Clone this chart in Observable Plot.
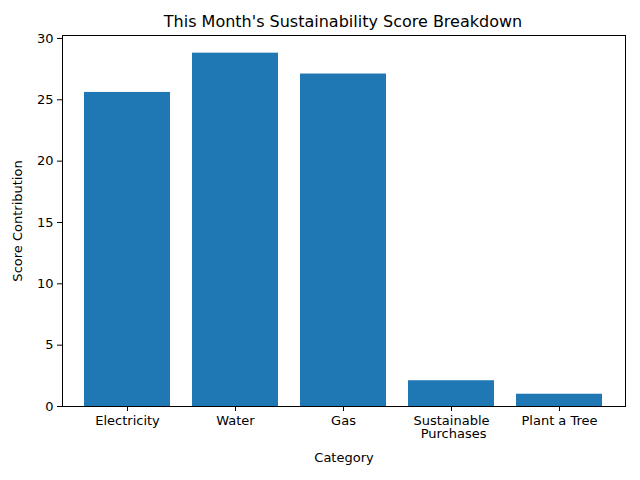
<!DOCTYPE html>
<html>
<head>
<script src="https://cdn.jsdelivr.net/npm/d3@7"></script>
<script src="https://cdn.jsdelivr.net/npm/@observablehq/plot@0.6"></script>
<style>
  body { margin: 0; background: #fff; font-family: "DejaVu Sans", sans-serif; }
  #title { height: 30px; width: 640px; font-size: 16px; text-align: center; padding-left: 46px; box-sizing: border-box; line-height: 44px; }
</style>
</head>
<body>
<div id="title">This Month's Sustainability Score Breakdown</div>
<div id="chart"></div>
<script>
  const categories = ["Electricity", "Water", "Gas", "Sustainable\n Purchases", "Plant a Tree"]
  const scores = [25.6, 28.8, 27.1, 2.1, 1.0]

  const data = categories.map((c, i) => ({ category: c, score: scores[i] }))

  let chart = Plot.plot({
    width: 640,
    height: 450,
    marginTop: 5,
    marginBottom: 74,
    marginLeft: 62,
    marginRight: 15,
    style: { fontFamily: "DejaVu Sans, sans-serif", fontSize: "13px", color: "#000" },
    x: {
      domain: categories,
      paddingInner: 0.2,
      paddingOuter: 0.2,
      label: "Category",
      labelAnchor: "center",
      labelOffset: 55,
      tickSize: 5,
      tickPadding: 4
    },
    y: {
      domain: [0, 30.24],
      ticks: [0, 5, 10, 15, 20, 25, 30],
      label: "Score Contribution",
      labelAnchor: "center",
      labelOffset: 50,
      labelArrow: "none",
      tickSize: 5
    },
    marks: [
      Plot.barY(data, { x: "category", y: "score", fill: "#1f77b4" }),
      Plot.frame({ stroke: "#000" })
    ]
  })
  d3.select('#chart').append(() => chart)
</script>
</body>
</html>
